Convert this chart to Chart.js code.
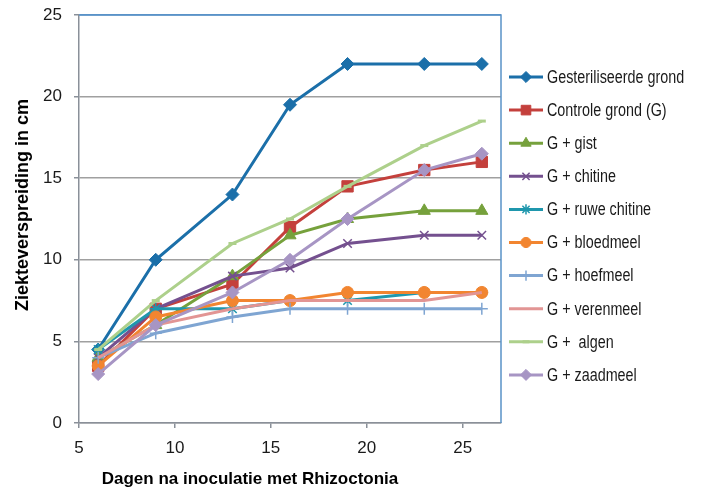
<!DOCTYPE html>
<html><head><meta charset="utf-8">
<script src="https://cdn.jsdelivr.net/npm/chart.js@4"></script>
<style>html,body{margin:0;padding:0;background:#fff}#wrap{width:721px;height:488px}</style>
</head><body><div id="wrap"><canvas id="c" width="721" height="488"></canvas></div>
<script>
// ---- data ----
const days = [6, 9, 13, 16, 19, 23, 26];
const seriesNames = ['Gesteriliseerde grond', 'Controle grond (G)', 'G + gist', 'G + chitine', 'G + ruwe chitine', 'G + bloedmeel', 'G + hoefmeel', 'G + verenmeel', 'G +  algen', 'G + zaadmeel'];
const gesteriliseerde = [4.5, 10, 14, 19.5, 22, 22, 22];
const controle = [3.5, 7, 8.5, 12, 14.5, 15.5, 16];
const gist = [4, 6, 9, 11.5, 12.5, 13, 13];
const chitine = [4, 7, 9, 9.5, 11, 11.5, 11.5];
const ruweChitine = [4.5, 7, 7, 7.5, 7.5, 8, 8];
const bloedmeel = [3.5, 6.5, 7.5, 7.5, 8, 8, 8];
const hoefmeel = [4, 5.5, 6.5, 7, 7, 7, 7];
const verenmeel = [4, 6, 7, 7.5, 7.5, 7.5, 8];
const algen = [4.5, 7.5, 11, 12.5, 14.5, 17, 18.5];
const zaadmeel = [3, 6, 8, 10, 12.5, 15.5, 16.5];
const yTicks = [0, 5, 10, 15, 20, 25];
const xTicks = [5, 10, 15, 20, 25];
const xTitle = 'Dagen na inoculatie met Rhizoctonia';
const yTitle = 'Ziekteverspreiding in cm';

const allValues = [gesteriliseerde, controle, gist, chitine, ruweChitine, bloedmeel, hoefmeel, verenmeel, algen, zaadmeel];
const styles = [
  {c: '#1b6fa9', ps: 'rectRot', r: 6.5, bw: 1},
  {c: '#c4403c', ps: 'rect', r: 8, bw: 1},
  {c: '#76a13c', ps: 'triangle', r: 7, bw: 1},
  {c: '#74508f', ps: 'crossRot', r: 6, bw: 1.5},
  {c: '#1f97ad', ps: 'star', r: 6, bw: 1.5},
  {c: '#f28530', ps: 'circle', r: 6, bw: 1},
  {c: '#7fa5d2', ps: 'cross', r: 6, bw: 1.5},
  {c: '#e29594', ps: 'circle', r: 0, bw: 0},
  {c: '#add08b', ps: 'line', r: 4, bw: 3},
  {c: '#a795c4', ps: 'rectRot', r: 6.5, bw: 1}
];

const datasets = seriesNames.map((name, i) => ({
  label: name,
  data: days.map((d, j) => ({x: d, y: allValues[i][j]})),
  borderColor: styles[i].c,
  backgroundColor: styles[i].c,
  pointBackgroundColor: styles[i].c,
  pointBorderColor: styles[i].c,
  pointStyle: styles[i].ps,
  pointRadius: styles[i].r,
  pointBorderWidth: styles[i].bw,
  borderWidth: 3,
  tension: 0,
  fill: false,
  order: seriesNames.length - i
}));

const FONT = "'Liberation Sans', Arial, sans-serif";

const extras = {
  id: 'extras',
  afterDraw(chart) {
    const ctx = chart.ctx;
    const a = chart.chartArea;
    ctx.save();
    // plot border top/right (blue)
    ctx.strokeStyle = '#5a92c8';
    ctx.lineWidth = 1.5;
    ctx.beginPath();
    ctx.moveTo(a.left, a.top); ctx.lineTo(a.right, a.top); ctx.lineTo(a.right, a.bottom);
    ctx.stroke();
    // axis titles
    ctx.fillStyle = '#000';
    ctx.font = 'bold 17px ' + FONT;
    ctx.textAlign = 'center';
    ctx.textBaseline = 'alphabetic';
    ctx.fillText(xTitle, 250, 484);
    ctx.font = 'bold 18px ' + FONT;
    ctx.translate(28, 205);
    ctx.rotate(-Math.PI / 2);
    ctx.fillText(yTitle, 0, 0);
    ctx.restore();
    // legend
    ctx.save();
    const lx0 = 509, lx1 = 543, tx = 547;
    chart.data.datasets.forEach((ds, i) => {
      const y = 77 + i * 33.1;
      ctx.strokeStyle = ds.borderColor;
      ctx.lineWidth = 3;
      ctx.beginPath(); ctx.moveTo(lx0, y); ctx.lineTo(lx1, y); ctx.stroke();
      if (ds.pointRadius > 0 && Chart.helpers && Chart.helpers.drawPoint) {
        ctx.fillStyle = ds.pointBackgroundColor;
        ctx.strokeStyle = ds.pointBorderColor;
        ctx.lineWidth = ds.pointBorderWidth;
        Chart.helpers.drawPoint(ctx, {pointStyle: ds.pointStyle, radius: ds.pointRadius * 0.85, rotation: 0, borderWidth: ds.pointBorderWidth}, (lx0 + lx1) / 2, y);
      }
      ctx.save();
      ctx.translate(tx, y + 1);
      ctx.scale(0.82, 1);
      ctx.fillStyle = '#1a1a1a';
      ctx.font = '17.5px ' + FONT;
      ctx.textAlign = 'left';
      ctx.textBaseline = 'middle';
      ctx.fillText(ds.label, 0, 0);
      ctx.restore();
    });
    ctx.restore();
  }
};

new Chart(document.getElementById('c'), {
  type: 'line',
  data: {datasets},
  options: {
    responsive: false,
    animation: false,
    events: [],
    layout: {padding: {left: 0, right: 220, top: 15, bottom: 0}},
    plugins: {legend: {display: false}, tooltip: {enabled: false}},
    scales: {
      x: {
        type: 'linear', min: 5, max: 27,
        afterBuildTicks: s => { s.ticks = xTicks.map(v => ({value: v})); },
        afterFit: s => { s.height = 65; s.paddingLeft = 0; s.paddingRight = 0; },
        grid: {drawOnChartArea: false, color: '#8a9099', tickLength: 5, lineWidth: 1.5},
        border: {display: true, color: '#8a9099', width: 1.5},
        ticks: {color: '#1a1a1a', font: {family: FONT, size: 17}, padding: 10, maxRotation: 0, autoSkip: false}
      },
      y: {
        min: 0, max: 25,
        afterBuildTicks: s => { s.ticks = yTicks.map(v => ({value: v})); },
        afterFit: s => { s.width = 79; s.paddingTop = 0; s.paddingBottom = 0; },
        grid: {color: ctx => ctx.tick && ctx.tick.value === 25 ? '#5a92c8' : '#a0a0a0', tickColor: '#8a9099', tickLength: 5, lineWidth: 1.5},
        border: {display: true, color: '#8a9099', width: 1.5},
        ticks: {color: '#1a1a1a', font: {family: FONT, size: 17}, padding: 12}
      }
    }
  },
  plugins: [extras]
});
</script>
</body></html>
